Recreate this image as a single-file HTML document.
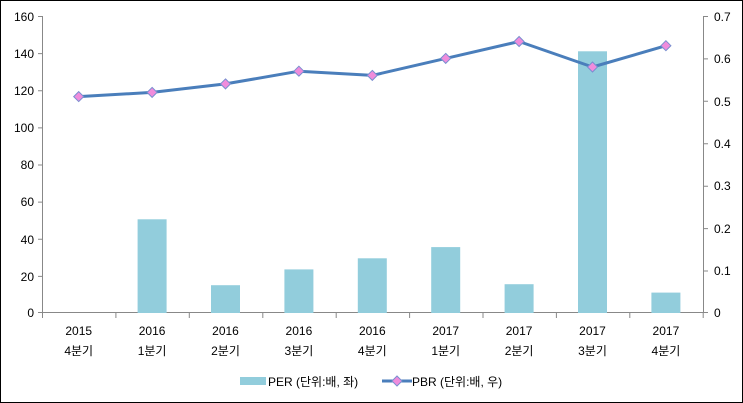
<!DOCTYPE html>
<html><head><meta charset="utf-8"><style>
html,body{margin:0;padding:0;background:#fff;}
svg{display:block;font-family:"Liberation Sans","Noto Sans CJK KR","NanumGothic",sans-serif;}
</style></head><body>
<svg width="743" height="403" viewBox="0 0 743 403" xmlns="http://www.w3.org/2000/svg">
<rect x="0.5" y="0.5" width="742" height="402" fill="#fff" stroke="#000" stroke-width="1"/>
<g stroke="#888" stroke-width="1" fill="none">
<line x1="42.5" y1="16" x2="42.5" y2="313"/>
<line x1="703.5" y1="16" x2="703.5" y2="313"/>
<line x1="42" y1="312.5" x2="703" y2="312.5"/>
<path d="M38 16.5H42.5M38 53.6H42.5M38 90.8H42.5M38 127.9H42.5M38 165H42.5M38 202.1H42.5M38 239.3H42.5M38 276.4H42.5M38 312.5H42.5"/>
<path d="M703 16.5H708M703 58.9H708M703 101.3H708M703 143.8H708M703 186.2H708M703 228.6H708M703 271H708M703 312.5H708"/>
<path d="M42.5 312V318M115.9 312V318M189.3 312V318M262.8 312V318M336.2 312V318M409.6 312V318M483 312V318M556.4 312V318M629.8 312V318M703.2 312V318"/>
</g>
<g font-size="12" fill="#000" text-anchor="end">
<text x="34" y="21">160</text><text x="34" y="58">140</text><text x="34" y="95">120</text><text x="34" y="132">100</text>
<text x="34" y="169">80</text><text x="34" y="206">60</text><text x="34" y="244">40</text><text x="34" y="281">20</text><text x="34" y="317">0</text>
</g>
<g font-size="12" fill="#000" text-anchor="start">
<text x="714" y="21">0.7</text><text x="714" y="63">0.6</text><text x="714" y="106">0.5</text><text x="714" y="148">0.4</text>
<text x="714" y="190">0.3</text><text x="714" y="233">0.2</text><text x="714" y="275">0.1</text><text x="714" y="317">0</text>
</g>
<g fill="#92cddc">
<rect x="137.6" y="219.3" width="29" height="93.7"/>
<rect x="211" y="285.2" width="29" height="27.8"/>
<rect x="284.4" y="269.4" width="29" height="43.6"/>
<rect x="357.8" y="258.3" width="29" height="54.7"/>
<rect x="431.2" y="247.1" width="29" height="65.9"/>
<rect x="504.6" y="284.2" width="29" height="28.8"/>
<rect x="578" y="51.3" width="29" height="261.7"/>
<rect x="651.4" y="292.6" width="29" height="20.4"/>
</g>
<polyline fill="none" stroke="#4a7ebb" stroke-width="3" stroke-linejoin="round" points="78.7,96.6 152.1,92.4 225.5,83.9 298.9,71.2 372.3,75.4 445.7,58.4 519.1,41.5 592.5,67 665.9,45.7"/>
<g fill="#f08cdc" stroke="#7a8fd0" stroke-width="1">
<path d="M78.7 91.6L83.7 96.6L78.7 101.6L73.7 96.6Z"/>
<path d="M152.1 87.4L157.1 92.4L152.1 97.4L147.1 92.4Z"/>
<path d="M225.5 78.9L230.5 83.9L225.5 88.9L220.5 83.9Z"/>
<path d="M298.9 66.2L303.9 71.2L298.9 76.2L293.9 71.2Z"/>
<path d="M372.3 70.4L377.3 75.4L372.3 80.4L367.3 75.4Z"/>
<path d="M445.7 53.4L450.7 58.4L445.7 63.4L440.7 58.4Z"/>
<path d="M519.1 36.5L524.1 41.5L519.1 46.5L514.1 41.5Z"/>
<path d="M592.5 62L597.5 67L592.5 72L587.5 67Z"/>
<path d="M665.9 40.7L670.9 45.7L665.9 50.7L660.9 45.7Z"/>
</g>
<g font-size="12" fill="#000" text-anchor="middle">
<text x="78.7" y="335">2015</text><text x="78.7" y="355">4분기</text>
<text x="152.1" y="335">2016</text><text x="152.1" y="355">1분기</text>
<text x="225.5" y="335">2016</text><text x="225.5" y="355">2분기</text>
<text x="298.9" y="335">2016</text><text x="298.9" y="355">3분기</text>
<text x="372.3" y="335">2016</text><text x="372.3" y="355">4분기</text>
<text x="445.7" y="335">2017</text><text x="445.7" y="355">1분기</text>
<text x="519.1" y="335">2017</text><text x="519.1" y="355">2분기</text>
<text x="592.5" y="335">2017</text><text x="592.5" y="355">3분기</text>
<text x="665.9" y="335">2017</text><text x="665.9" y="355">4분기</text>
</g>
<rect x="240" y="377" width="26" height="8" fill="#92cddc"/>
<text x="268" y="386" font-size="12" fill="#000">PER (단위:배, 좌)</text>
<line x1="382" y1="381" x2="412" y2="381" stroke="#4a7ebb" stroke-width="3"/>
<path d="M397 376L402 381L397 386L392 381Z" fill="#f08cdc" stroke="#7a8fd0" stroke-width="1"/>
<text x="412" y="386" font-size="12" fill="#000">PBR (단위:배, 우)</text>
</svg>
</body></html>
